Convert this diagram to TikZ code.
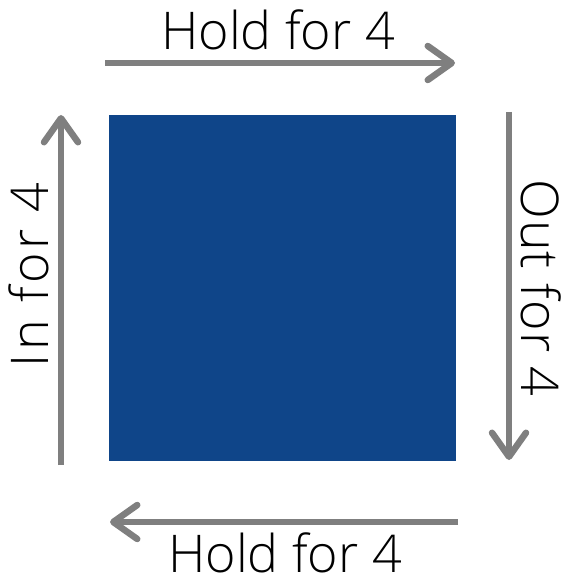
\documentclass[tikz,border=0pt]{standalone}
\usepackage{fontspec}
\setmainfont{Open Sans}[UprightFont={* Light}]
\usetikzlibrary{arrows.meta}
\definecolor{boxblue}{HTML}{0F4589}
\definecolor{arrowgray}{HTML}{7F7F7F}
\tikzset{
  flow/.style={draw=arrowgray, line width=6.5pt,
    -{Straight Barb[length=24pt, width=34pt, round]}},
  lbl/.style={font=\fontsize{52}{60}\selectfont, inner sep=0pt, text=black}
}
\begin{document}
\begin{tikzpicture}[x=1pt,y=-1pt]
\useasboundingbox (0,0) rectangle (561,577);
\fill[boxblue] (109,115) rectangle (456,461);
\coordinate (t1) at (105,63);
\coordinate (t2) at (455,63);
\coordinate (r1) at (509,112);
\coordinate (r2) at (509,460);
\coordinate (b1) at (458,522);
\coordinate (b2) at (110,522);
\coordinate (l1) at (61,465);
\coordinate (l2) at (61,115);
\draw[flow] (t1) -- (t2);
\draw[flow] (r1) -- (r2);
\draw[flow] (b1) -- (b2);
\draw[flow] (l1) -- (l2);
\node[lbl, anchor=base] (ht) at (278,50) {Hold for 4};
\node[lbl, anchor=base] (hb) at (285,572) {Hold for 4};
\node[lbl, anchor=base, rotate=-90] (out) at (521,288) {\addfontfeature{LetterSpace=2}Out for 4};
\node[lbl, anchor=base, rotate=90] (in) at (48,275) {\addfontfeature{LetterSpace=7}In for 4};
\end{tikzpicture}
\end{document}
